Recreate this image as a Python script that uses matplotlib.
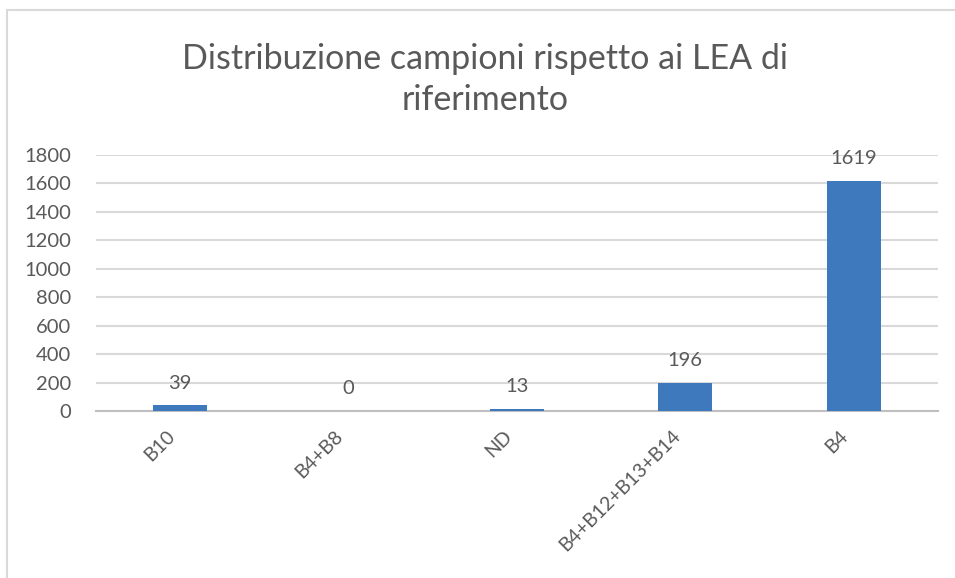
import matplotlib.pyplot as plt
from matplotlib.patches import Rectangle
from matplotlib.transforms import ScaledTranslation

# dati del grafico
categorie = ["B10", "B4+B8", "ND", "B4+B12+B13+B14", "B4"]
campioni = [39, 0, 13, 196, 1619]
tick_y = [0, 200, 400, 600, 800, 1000, 1200, 1400, 1600, 1800]

plt.rcParams['font.family'] = ['Lato', 'DejaVu Sans']
grigio = '#595959'

fig = plt.figure(figsize=(9.55, 5.78), dpi=100)
ax = fig.add_axes([0.1005, 0.289, 0.8815, 0.443])

# cornice dell'area grafico
fig.patches.append(Rectangle((0.0073, -0.02), 1.1, 1.0027, transform=fig.transFigure,
                             fill=False, edgecolor='#D9D9D9', linewidth=1.5))

x = range(len(categorie))
bars = ax.bar(x, campioni, width=0.32, color='#3E78BD', zorder=3)

for xi, v in zip(x, campioni):
    ax.annotate(str(v), (xi, v), xytext=(0, 10), textcoords='offset points',
                ha='center', va='bottom', fontsize=14.5, color=grigio)

ax.set_xlim(-0.5, len(categorie) - 0.5)
ax.set_ylim(0, 1800)
ax.set_yticks(tick_y)
ax.set_yticklabels([str(t) for t in tick_y], fontsize=14.5, color=grigio)
ax.set_xticks(list(x))
ax.set_xticklabels(categorie, rotation=45, ha='right', va='center',
                   rotation_mode='anchor', fontsize=14, color=grigio)
ax.tick_params(axis='x', length=0, pad=16)
ax.tick_params(axis='y', length=0, pad=18)
sposta = ScaledTranslation(-0.08, 0, fig.dpi_scale_trans)
for lab in ax.get_xticklabels():
    lab.set_transform(lab.get_transform() + sposta)

ax.grid(axis='y', color='#D9D9D9', linewidth=1.5, zorder=0)
for s in ['top', 'right', 'left']:
    ax.spines[s].set_visible(False)
ax.spines['bottom'].set_color('#BFBFBF')
ax.spines['bottom'].set_linewidth(1.5)

fig.text(0.508, 0.862, "Distribuzione campioni rispetto ai LEA di\nriferimento",
         ha='center', va='center', fontsize=24.5, color=grigio, linespacing=1.36)

fig.savefig('out.png', dpi=100)
